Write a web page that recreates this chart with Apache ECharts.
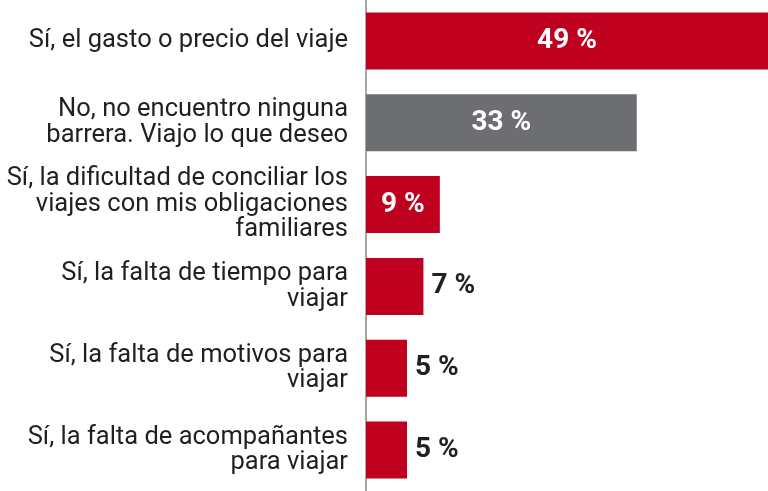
<!DOCTYPE html>
<html>
<head>
<meta charset="utf-8">
<script src="https://cdn.jsdelivr.net/npm/echarts@6/dist/echarts.min.js"></script>
<style>
html,body{margin:0;padding:0;background:#fff;}
#chart{width:768px;height:491px;}
</style>
</head>
<body>
<div id="chart"></div>
<script>
const categories = [
  "Sí, el gasto o precio del viaje",
  "No, no encuentro ninguna\nbarrera. Viajo lo que deseo",
  "Sí, la dificultad de conciliar los\nviajes con mis obligaciones\nfamiliares",
  "Sí, la falta de tiempo para\nviajar",
  "Sí, la falta de motivos para\nviajar",
  "Sí, la falta de acompañantes\npara viajar"
];
const values = [49, 33, 9, 7, 5, 5];
const highlightIndex = 1; // the "No" answer drawn in gray

const RED = '#C0001F';
const GRAY = '#6D6E71';
const TEXT = '#231F20';

const seriesData = values.map(function (v, i) {
  const inside = v >= 9;
  return {
    value: v,
    itemStyle: { color: i === highlightIndex ? GRAY : RED },
    label: {
      position: inside ? 'inside' : 'right',
      color: inside ? '#ffffff' : TEXT,
      distance: 8
    }
  };
});

const chart = echarts.init(document.getElementById('chart'), null, { renderer: 'canvas' });
chart.setOption({
  animation: false,
  backgroundColor: '#ffffff',
  grid: { left: 366, right: 0, top: 0, bottom: 0, containLabel: false },
  xAxis: {
    type: 'value', min: 0, max: 49, show: false
  },
  yAxis: {
    type: 'category',
    data: categories,
    inverse: true,
    axisLine: { show: true, lineStyle: { color: '#8A8A8A', width: 1.5 } },
    axisTick: { show: false },
    splitLine: { show: false },
    axisLabel: {
      margin: 18,
      fontFamily: 'Roboto',
      fontSize: 25.5,
      lineHeight: 25.5,
      color: TEXT,
      align: 'right'
    }
  },
  series: [{
    type: 'bar',
    data: seriesData,
    barWidth: 57,
    label: {
      show: true,
      fontFamily: 'Roboto',
      fontWeight: 'bold',
      fontSize: 28,
      formatter: function (p) { return p.value + ' %'; }
    }
  }]
});
</script>
</body>
</html>
